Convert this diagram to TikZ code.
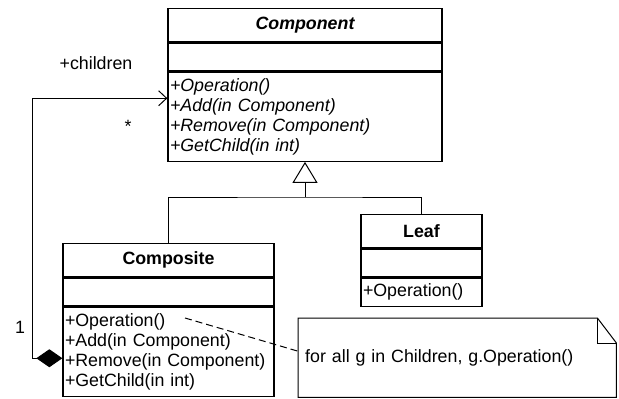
\documentclass[tikz,border=0pt]{standalone}
\usepackage{fontspec}
\setmainfont{Liberation Sans}
\usepackage{tikz}
\usetikzlibrary{arrows.meta,positioning}

\newcommand{\umlfont}{\fontsize{17.8pt}{20pt}\selectfont}

\begin{document}
\begin{tikzpicture}[
    x=1pt, y=-1pt,
    every node/.style={font=\umlfont},
    classname/.style={
        draw,
        line width=1.3pt,
        minimum height=33pt,
        inner sep=0pt,
        font=\umlfont\bfseries
    },
    classattrs/.style={
        draw,
        line width=1.3pt,
        minimum height=28pt,
        inner sep=0pt
    },
    classops/.style={
        draw,
        line width=1.3pt,
        align=left,
        inner xsep=2pt,
        inner ysep=0pt
    },
    notetext/.style={align=left, inner xsep=7pt, inner ysep=0pt},
    notebox/.style={line width=1pt},
    tree/.style={line width=1pt},
    generalize/.style={-{Triangle[open, length=21pt, width=25pt]}, line width=1pt},
    aggregate/.style={{Diamond[length=26pt, width=18pt]}-{Straight Barb[length=8pt, width=15pt]}, line width=1pt},
    attached/.style={line width=1pt, dash pattern=on 7pt off 4pt}
]
\useasboundingbox (0,0) rectangle (619,399);

\node[classname, minimum width=274pt, anchor=north, font=\umlfont\bfseries\itshape] (component_name) at (305,8) {Component};
\node[classattrs, minimum width=274pt, below=0pt of component_name] (component_attrs) {};
\node[classops, text width=270pt, minimum height=89pt, below=0pt of component_attrs, font=\umlfont\itshape] (component_ops) {
+Operation()\\
+Add(in Component)\\
+Remove(in Component)\\
+GetChild(in int)
};

\node[classname, minimum width=211pt, anchor=north] (composite_name) at (168.5,243) {Composite};
\node[classattrs, minimum width=211pt, below=0pt of composite_name] (composite_attrs) {};
\node[classops, text width=207pt, minimum height=89pt, below=0pt of composite_attrs] (composite_ops) {
+Operation()\\
+Add(in Component)\\
+Remove(in Component)\\
+GetChild(in int)
};

\node[classname, minimum width=121pt, anchor=north] (leaf_name) at (421.5,214) {Leaf};
\node[classattrs, minimum width=121pt, below=0pt of leaf_name] (leaf_attrs) {};
\node[classops, text width=117pt, minimum height=28pt, below=0pt of leaf_attrs] (leaf_ops) {+Operation()};

\node[notetext, text width=304pt, minimum height=79pt, anchor=north west] (note) at (298,318) {for all g in Children, g.Operation()};
\draw[notebox] (note.north west) -- ([xshift=-19pt]note.north east) -- ([yshift=-25pt]note.north east)
    -- (note.south east) -- (note.south west) -- cycle;
\draw[notebox] ([xshift=-19pt]note.north east) |- ([yshift=-25pt]note.north east);

\node (children_label) at (96,63) {+children};
\node (many_label) at (128,126) {*};
\node (one_label) at (20,327) {1};

\coordinate (fork) at (305,197);
\coordinate (operation_end) at (185,318);

\draw[tree] (composite_name.north) |- (fork) -| (leaf_name.north);
\draw[generalize] (fork) -- (component_ops.south);
\draw[aggregate] ([yshift=-6.5pt]composite_ops.west) -- ++(-30,0) |- ([yshift=18.5pt]component_ops.west);
\draw[attached] (operation_end) -- ([yshift=6.5pt]note.west);

\end{tikzpicture}
\end{document}
